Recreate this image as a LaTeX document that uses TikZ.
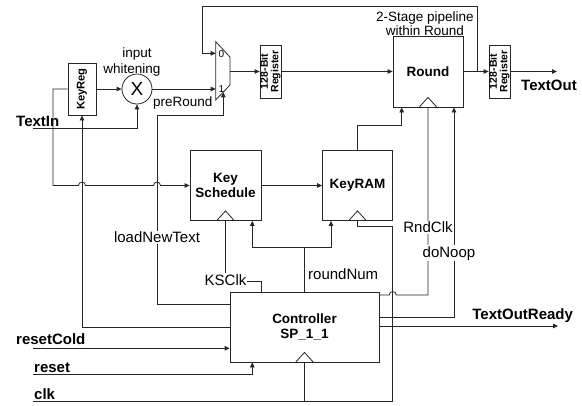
\documentclass[tikz,border=0pt]{standalone}
\usepackage{fontspec}
\setmainfont{Liberation Sans}
\usetikzlibrary{arrows.meta}
\begin{document}
\begin{tikzpicture}[x=1pt,y=-1pt,
  wire/.style={line width=0.8pt, draw=black!85},
  arr/.style={wire, -{Triangle[length=5pt,width=4.5pt]}},
  box/.style={draw=black!85, rectangle, inner sep=0pt, line width=0.8pt},
  boxlab/.style={font=\fontsize{13.5}{15.5}\selectfont\bfseries, align=center},
  reglab/.style={font=\fontsize{10.5}{10.5}\selectfont\bfseries, align=center, rotate=90, inner sep=0pt},
  lab/.style={font=\fontsize{15}{16}\selectfont, inner sep=1pt, anchor=base},
  slab/.style={font=\fontsize{13.5}{15}\selectfont, inner sep=0pt, anchor=base},
  blab/.style={font=\fontsize{15}{16}\selectfont\bfseries, inner sep=0pt, anchor=base},
  clock/.style={wire}
]
\useasboundingbox (0,0) rectangle (582,405);

% ---------- blocks ----------
\node[box, minimum width=28pt, minimum height=52pt] (keyreg) at (82,89) {};
\node[reglab, font=\fontsize{11.2}{12}\selectfont\bfseries] at (keyreg) {KeyReg};
\node[draw=black!85, circle, line width=0.8pt, minimum size=30pt, inner sep=0pt,
      font=\fontsize{19}{19}\selectfont] (xor) at (137,89) {X};

\draw[wire] (215.7,41.7) -- (230,57) -- (230,85) -- (215.7,100) -- cycle;
\coordinate (mux0) at (215.7,53.3);
\coordinate (mux1) at (215.7,89);
\coordinate (muxsel) at (223.3,92.3);
\coordinate (muxout) at (230,71.5);
\node[font=\fontsize{10}{10}\selectfont, inner sep=0pt, anchor=base] at (221.5,57) {0};
\node[font=\fontsize{10}{10}\selectfont, inner sep=0pt, anchor=base] at (221.5,92) {1};

\node[box, minimum width=21pt, minimum height=53pt] (reg1) at (270.5,71.5) {};
\node[reglab] at (reg1) {128-Bit\\Register};
\node[box, minimum width=70pt, minimum height=71pt, boxlab] (round) at (428,71.5) {Round};
\node[box, minimum width=21pt, minimum height=53pt] (reg2) at (499.5,71.5) {};
\node[reglab] at (reg2) {128-Bit\\Register};
\node[box, minimum width=71pt, minimum height=70pt, boxlab] (keysched) at (225.5,185.5) {Key\\Schedule};
\node[box, minimum width=70pt, minimum height=70pt, boxlab] (keyram) at (357.5,185.5) {KeyRAM};
\node[box, minimum width=149pt, minimum height=70pt, boxlab] (ctrl) at (304.5,327) {Controller\\SP\_1\_1};

% clock triangles
\foreach \n in {round,keysched,keyram,ctrl}
  \draw[clock] ([xshift=-9pt]\n.south) -- ([yshift=10pt]\n.south) -- ([xshift=9pt]\n.south);

% ---------- datapath ----------
\node[blab, anchor=base west] at (16,126) {TextIn};
\draw[arr] (33,128) -- (xor.south |- 0,128) -- (xor.south);
\draw[arr] (keyreg.east) -- (xor.west);
\draw[arr] (xor.east) -- (mux1);
\node[slab] at (182.7,106) {preRound};
\node[slab] at (137,57) {input};
\node[slab] at (132,73) {whitening};

\draw[arr] (keyreg.west) -- (53,89) -- (53,185.5) -- (78.5,185.5)
  .. controls (78.5,181) and (85.5,181) .. (85.5,185.5) -- (153.5,185.5)
  .. controls (153.5,181) and (160.5,181) .. (160.5,185.5) -- (keysched.west);

\draw[arr] (muxout) -- (reg1.west);
\draw[arr] (reg1.east) -- (round.west);
\draw[arr] (round.east) -- (reg2.west);
\coordinate (fb) at (477,71.5);
\draw[arr] (fb) -- (477,6) -- (202,6) -- (202,53.3) -- (mux0);
\draw[arr] (reg2.east) -- (557,71.5);
\node[blab] at (549,90.7) {TextOut};
\node[slab, align=center, anchor=base] at (425,21.7) {2-Stage pipeline};
\node[slab, anchor=base] at (425,35) {within Round};

\draw[arr] (keysched.east) -- (keyram.west);
\draw[arr] (keyram.north) -- (357.5,125) -- (401.7,125) -- (round.south -| 401.7,0);

% ---------- control ----------
\draw[arr] (ctrl.west) -- (keyreg.south |- ctrl.west) -- (keyreg.south);
\draw[arr] (ctrl.west |- 0,304) -- (157,304) -- (157,115) -- (223.3,115) -- (muxsel);
\node[lab, fill=white] at (157,242.7) {loadNewText};

\draw[wire] (keysched.south) -- (225.5,281.7) -- (261,281.7) -- (ctrl.north -| 261,0);
\node[lab, fill=white] at (225.5,285) {KSClk};

\draw[wire] (ctrl.north) -- (304.5,247);
\draw[arr] (304.5,247) -- (252.3,247) -- (keysched.south -| 252.3,0);
\draw[arr] (304.5,247) -- (331,247) -- (keyram.south -| 331,0);
\node[lab, anchor=base west, inner sep=0pt] at (308,279.3) {roundNum};

\node[blab, anchor=base west] at (34,399.5) {clk};
\draw[wire] (33,401) -- (392.7,401) -- (392.7,226) -- (357.5,226) -- (keyram.south);
\draw[wire] (ctrl.south |- 0,401) -- (ctrl.south);

\draw[wire] (ctrl.east |- 0,295) -- (389.2,295)
  .. controls (389.2,290.5) and (396.2,290.5) .. (396.2,295) -- (428,295) -- (round.south);
\draw[arr] (ctrl.east |- 0,317) -- (454,317) -- (round.south -| 454,0);
\node[lab, fill=white] at (428,232.7) {RndClk};
\node[lab, fill=white] at (449,257.3) {doNoop};

\draw[arr] (ctrl.east |- 0,326) -- (558,326);
\node[blab] at (522.7,319.3) {TextOutReady};

\node[blab, anchor=base west] at (16,344.3) {resetCold};
\draw[arr] (33,348.3) -- (ctrl.west |- 0,348.3);
\node[blab, anchor=base west] at (34,372) {reset};
\draw[arr] (33,374) -- (252.3,374) -- (ctrl.south -| 252.3,0);
\end{tikzpicture}
\end{document}
